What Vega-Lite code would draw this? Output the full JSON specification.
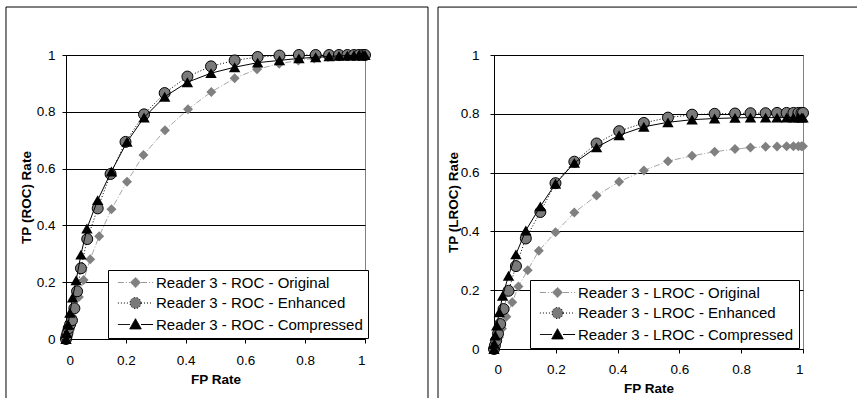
{
  "$schema": "https://vega.github.io/schema/vega-lite/v6.json",
  "padding": {"left": 4, "top": 6, "right": 0, "bottom": 0},
  "background": "white",
  "config": {
    "font": "Liberation Sans",
    "view": {"stroke": "#808080", "strokeWidth": 1},
    "concat": {"spacing": 8},
    "axis": {
      "labelFont": "Liberation Sans", "labelFontSize": 13.5, "labelColor": "black",
      "titleFont": "Liberation Sans", "titleFontSize": 13.5, "titleFontWeight": "bold", "titleColor": "black",
      "domainColor": "black", "tickColor": "black", "tickSize": 4, "tickWidth": 1, "domainWidth": 1,
      "gridColor": "black", "gridWidth": 1, "gridOpacity": 1, "zindex": 1
    },
    "legend": {
      "orient": "none", "title": null, "strokeColor": "black", "fillColor": "white",
      "padding": 5, "rowPadding": 4.5, "labelFont": "Liberation Sans", "labelFontSize": 15,
      "labelColor": "black", "labelLimit": 400, "symbolSize": 121, "symbolStrokeWidth": 1,
      "symbolOffset": 15, "labelOffset": 13, "cornerRadius": 0, "columns": 1
    }
  },
  "datasets": {
    "roc": [
      {"series": "Reader 3 - ROC - Original", "fp": 0, "tp": 0},
      {"series": "Reader 3 - ROC - Original", "fp": 0.003, "tp": 0.012},
      {"series": "Reader 3 - ROC - Original", "fp": 0.007, "tp": 0.03},
      {"series": "Reader 3 - ROC - Original", "fp": 0.013, "tp": 0.055},
      {"series": "Reader 3 - ROC - Original", "fp": 0.02, "tp": 0.08},
      {"series": "Reader 3 - ROC - Original", "fp": 0.03, "tp": 0.112},
      {"series": "Reader 3 - ROC - Original", "fp": 0.043, "tp": 0.148},
      {"series": "Reader 3 - ROC - Original", "fp": 0.059, "tp": 0.208},
      {"series": "Reader 3 - ROC - Original", "fp": 0.081, "tp": 0.281},
      {"series": "Reader 3 - ROC - Original", "fp": 0.111, "tp": 0.362},
      {"series": "Reader 3 - ROC - Original", "fp": 0.152, "tp": 0.457},
      {"series": "Reader 3 - ROC - Original", "fp": 0.204, "tp": 0.554},
      {"series": "Reader 3 - ROC - Original", "fp": 0.259, "tp": 0.648},
      {"series": "Reader 3 - ROC - Original", "fp": 0.331, "tp": 0.735},
      {"series": "Reader 3 - ROC - Original", "fp": 0.408, "tp": 0.809},
      {"series": "Reader 3 - ROC - Original", "fp": 0.486, "tp": 0.87},
      {"series": "Reader 3 - ROC - Original", "fp": 0.564, "tp": 0.918},
      {"series": "Reader 3 - ROC - Original", "fp": 0.639, "tp": 0.95},
      {"series": "Reader 3 - ROC - Original", "fp": 0.713, "tp": 0.969},
      {"series": "Reader 3 - ROC - Original", "fp": 0.777, "tp": 0.981},
      {"series": "Reader 3 - ROC - Original", "fp": 0.83, "tp": 0.988},
      {"series": "Reader 3 - ROC - Original", "fp": 0.876, "tp": 0.993},
      {"series": "Reader 3 - ROC - Original", "fp": 0.914, "tp": 0.996},
      {"series": "Reader 3 - ROC - Original", "fp": 0.944, "tp": 0.998},
      {"series": "Reader 3 - ROC - Original", "fp": 0.966, "tp": 0.999},
      {"series": "Reader 3 - ROC - Original", "fp": 0.982, "tp": 1},
      {"series": "Reader 3 - ROC - Original", "fp": 0.993, "tp": 1},
      {"series": "Reader 3 - ROC - Original", "fp": 1, "tp": 1},
      {"series": "Reader 3 - ROC - Enhanced", "fp": 0, "tp": 0},
      {"series": "Reader 3 - ROC - Enhanced", "fp": 0.002, "tp": 0.01},
      {"series": "Reader 3 - ROC - Enhanced", "fp": 0.005, "tp": 0.022},
      {"series": "Reader 3 - ROC - Enhanced", "fp": 0.009, "tp": 0.038},
      {"series": "Reader 3 - ROC - Enhanced", "fp": 0.014, "tp": 0.052},
      {"series": "Reader 3 - ROC - Enhanced", "fp": 0.02, "tp": 0.066},
      {"series": "Reader 3 - ROC - Enhanced", "fp": 0.028, "tp": 0.108},
      {"series": "Reader 3 - ROC - Enhanced", "fp": 0.037, "tp": 0.168},
      {"series": "Reader 3 - ROC - Enhanced", "fp": 0.05, "tp": 0.249},
      {"series": "Reader 3 - ROC - Enhanced", "fp": 0.071, "tp": 0.352},
      {"series": "Reader 3 - ROC - Enhanced", "fp": 0.106, "tp": 0.46},
      {"series": "Reader 3 - ROC - Enhanced", "fp": 0.149, "tp": 0.581},
      {"series": "Reader 3 - ROC - Enhanced", "fp": 0.199, "tp": 0.694},
      {"series": "Reader 3 - ROC - Enhanced", "fp": 0.261, "tp": 0.791},
      {"series": "Reader 3 - ROC - Enhanced", "fp": 0.33, "tp": 0.866},
      {"series": "Reader 3 - ROC - Enhanced", "fp": 0.406, "tp": 0.924},
      {"series": "Reader 3 - ROC - Enhanced", "fp": 0.485, "tp": 0.96},
      {"series": "Reader 3 - ROC - Enhanced", "fp": 0.564, "tp": 0.981},
      {"series": "Reader 3 - ROC - Enhanced", "fp": 0.641, "tp": 0.993},
      {"series": "Reader 3 - ROC - Enhanced", "fp": 0.714, "tp": 0.998},
      {"series": "Reader 3 - ROC - Enhanced", "fp": 0.779, "tp": 1},
      {"series": "Reader 3 - ROC - Enhanced", "fp": 0.835, "tp": 1},
      {"series": "Reader 3 - ROC - Enhanced", "fp": 0.88, "tp": 1},
      {"series": "Reader 3 - ROC - Enhanced", "fp": 0.913, "tp": 1},
      {"series": "Reader 3 - ROC - Enhanced", "fp": 0.941, "tp": 1},
      {"series": "Reader 3 - ROC - Enhanced", "fp": 0.963, "tp": 1},
      {"series": "Reader 3 - ROC - Enhanced", "fp": 0.98, "tp": 1},
      {"series": "Reader 3 - ROC - Enhanced", "fp": 0.993, "tp": 1},
      {"series": "Reader 3 - ROC - Enhanced", "fp": 1, "tp": 1},
      {"series": "Reader 3 - ROC - Compressed", "fp": 0, "tp": 0},
      {"series": "Reader 3 - ROC - Compressed", "fp": 0.002, "tp": 0.021},
      {"series": "Reader 3 - ROC - Compressed", "fp": 0.007, "tp": 0.051},
      {"series": "Reader 3 - ROC - Compressed", "fp": 0.013, "tp": 0.092},
      {"series": "Reader 3 - ROC - Compressed", "fp": 0.022, "tp": 0.146},
      {"series": "Reader 3 - ROC - Compressed", "fp": 0.034, "tp": 0.207},
      {"series": "Reader 3 - ROC - Compressed", "fp": 0.05, "tp": 0.297},
      {"series": "Reader 3 - ROC - Compressed", "fp": 0.07, "tp": 0.389},
      {"series": "Reader 3 - ROC - Compressed", "fp": 0.106, "tp": 0.489},
      {"series": "Reader 3 - ROC - Compressed", "fp": 0.152, "tp": 0.59},
      {"series": "Reader 3 - ROC - Compressed", "fp": 0.204, "tp": 0.694},
      {"series": "Reader 3 - ROC - Compressed", "fp": 0.261, "tp": 0.78},
      {"series": "Reader 3 - ROC - Compressed", "fp": 0.33, "tp": 0.853},
      {"series": "Reader 3 - ROC - Compressed", "fp": 0.406, "tp": 0.904},
      {"series": "Reader 3 - ROC - Compressed", "fp": 0.485, "tp": 0.936},
      {"series": "Reader 3 - ROC - Compressed", "fp": 0.564, "tp": 0.957},
      {"series": "Reader 3 - ROC - Compressed", "fp": 0.641, "tp": 0.973},
      {"series": "Reader 3 - ROC - Compressed", "fp": 0.714, "tp": 0.981},
      {"series": "Reader 3 - ROC - Compressed", "fp": 0.779, "tp": 0.988},
      {"series": "Reader 3 - ROC - Compressed", "fp": 0.835, "tp": 0.992},
      {"series": "Reader 3 - ROC - Compressed", "fp": 0.88, "tp": 0.995},
      {"series": "Reader 3 - ROC - Compressed", "fp": 0.913, "tp": 0.997},
      {"series": "Reader 3 - ROC - Compressed", "fp": 0.941, "tp": 0.998},
      {"series": "Reader 3 - ROC - Compressed", "fp": 0.963, "tp": 0.999},
      {"series": "Reader 3 - ROC - Compressed", "fp": 0.98, "tp": 1},
      {"series": "Reader 3 - ROC - Compressed", "fp": 0.993, "tp": 1},
      {"series": "Reader 3 - ROC - Compressed", "fp": 1, "tp": 1}
    ],
    "lroc": [
      {"series": "Reader 3 - LROC - Original", "fp": 0, "tp": 0},
      {"series": "Reader 3 - LROC - Original", "fp": 0.002, "tp": 0.005},
      {"series": "Reader 3 - LROC - Original", "fp": 0.005, "tp": 0.012},
      {"series": "Reader 3 - LROC - Original", "fp": 0.009, "tp": 0.022},
      {"series": "Reader 3 - LROC - Original", "fp": 0.016, "tp": 0.04},
      {"series": "Reader 3 - LROC - Original", "fp": 0.026, "tp": 0.07},
      {"series": "Reader 3 - LROC - Original", "fp": 0.04, "tp": 0.11},
      {"series": "Reader 3 - LROC - Original", "fp": 0.059, "tp": 0.159},
      {"series": "Reader 3 - LROC - Original", "fp": 0.079, "tp": 0.213},
      {"series": "Reader 3 - LROC - Original", "fp": 0.109, "tp": 0.268},
      {"series": "Reader 3 - LROC - Original", "fp": 0.145, "tp": 0.334},
      {"series": "Reader 3 - LROC - Original", "fp": 0.199, "tp": 0.397},
      {"series": "Reader 3 - LROC - Original", "fp": 0.26, "tp": 0.464},
      {"series": "Reader 3 - LROC - Original", "fp": 0.332, "tp": 0.522},
      {"series": "Reader 3 - LROC - Original", "fp": 0.405, "tp": 0.569},
      {"series": "Reader 3 - LROC - Original", "fp": 0.485, "tp": 0.607},
      {"series": "Reader 3 - LROC - Original", "fp": 0.563, "tp": 0.639},
      {"series": "Reader 3 - LROC - Original", "fp": 0.641, "tp": 0.657},
      {"series": "Reader 3 - LROC - Original", "fp": 0.714, "tp": 0.671},
      {"series": "Reader 3 - LROC - Original", "fp": 0.78, "tp": 0.68},
      {"series": "Reader 3 - LROC - Original", "fp": 0.83, "tp": 0.685},
      {"series": "Reader 3 - LROC - Original", "fp": 0.879, "tp": 0.688},
      {"series": "Reader 3 - LROC - Original", "fp": 0.916, "tp": 0.689},
      {"series": "Reader 3 - LROC - Original", "fp": 0.947, "tp": 0.69},
      {"series": "Reader 3 - LROC - Original", "fp": 0.969, "tp": 0.69},
      {"series": "Reader 3 - LROC - Original", "fp": 0.985, "tp": 0.69},
      {"series": "Reader 3 - LROC - Original", "fp": 0.995, "tp": 0.69},
      {"series": "Reader 3 - LROC - Original", "fp": 1, "tp": 0.69},
      {"series": "Reader 3 - LROC - Enhanced", "fp": 0, "tp": 0},
      {"series": "Reader 3 - LROC - Enhanced", "fp": 0.003, "tp": 0.012},
      {"series": "Reader 3 - LROC - Enhanced", "fp": 0.007, "tp": 0.029},
      {"series": "Reader 3 - LROC - Enhanced", "fp": 0.013, "tp": 0.052},
      {"series": "Reader 3 - LROC - Enhanced", "fp": 0.02, "tp": 0.085},
      {"series": "Reader 3 - LROC - Enhanced", "fp": 0.031, "tp": 0.136},
      {"series": "Reader 3 - LROC - Enhanced", "fp": 0.047, "tp": 0.198},
      {"series": "Reader 3 - LROC - Enhanced", "fp": 0.071, "tp": 0.282},
      {"series": "Reader 3 - LROC - Enhanced", "fp": 0.103, "tp": 0.376},
      {"series": "Reader 3 - LROC - Enhanced", "fp": 0.15, "tp": 0.466},
      {"series": "Reader 3 - LROC - Enhanced", "fp": 0.199, "tp": 0.564},
      {"series": "Reader 3 - LROC - Enhanced", "fp": 0.26, "tp": 0.637},
      {"series": "Reader 3 - LROC - Enhanced", "fp": 0.332, "tp": 0.699},
      {"series": "Reader 3 - LROC - Enhanced", "fp": 0.405, "tp": 0.741},
      {"series": "Reader 3 - LROC - Enhanced", "fp": 0.485, "tp": 0.769},
      {"series": "Reader 3 - LROC - Enhanced", "fp": 0.563, "tp": 0.787},
      {"series": "Reader 3 - LROC - Enhanced", "fp": 0.641, "tp": 0.797},
      {"series": "Reader 3 - LROC - Enhanced", "fp": 0.714, "tp": 0.8},
      {"series": "Reader 3 - LROC - Enhanced", "fp": 0.78, "tp": 0.801},
      {"series": "Reader 3 - LROC - Enhanced", "fp": 0.83, "tp": 0.802},
      {"series": "Reader 3 - LROC - Enhanced", "fp": 0.879, "tp": 0.802},
      {"series": "Reader 3 - LROC - Enhanced", "fp": 0.916, "tp": 0.803},
      {"series": "Reader 3 - LROC - Enhanced", "fp": 0.947, "tp": 0.803},
      {"series": "Reader 3 - LROC - Enhanced", "fp": 0.969, "tp": 0.803},
      {"series": "Reader 3 - LROC - Enhanced", "fp": 0.985, "tp": 0.803},
      {"series": "Reader 3 - LROC - Enhanced", "fp": 0.995, "tp": 0.803},
      {"series": "Reader 3 - LROC - Enhanced", "fp": 1, "tp": 0.803},
      {"series": "Reader 3 - LROC - Compressed", "fp": 0, "tp": 0},
      {"series": "Reader 3 - LROC - Compressed", "fp": 0.001, "tp": 0.018},
      {"series": "Reader 3 - LROC - Compressed", "fp": 0.004, "tp": 0.046},
      {"series": "Reader 3 - LROC - Compressed", "fp": 0.009, "tp": 0.08},
      {"series": "Reader 3 - LROC - Compressed", "fp": 0.017, "tp": 0.125},
      {"series": "Reader 3 - LROC - Compressed", "fp": 0.028, "tp": 0.181},
      {"series": "Reader 3 - LROC - Compressed", "fp": 0.047, "tp": 0.249},
      {"series": "Reader 3 - LROC - Compressed", "fp": 0.071, "tp": 0.322},
      {"series": "Reader 3 - LROC - Compressed", "fp": 0.103, "tp": 0.403},
      {"series": "Reader 3 - LROC - Compressed", "fp": 0.15, "tp": 0.485},
      {"series": "Reader 3 - LROC - Compressed", "fp": 0.199, "tp": 0.562},
      {"series": "Reader 3 - LROC - Compressed", "fp": 0.26, "tp": 0.633},
      {"series": "Reader 3 - LROC - Compressed", "fp": 0.332, "tp": 0.686},
      {"series": "Reader 3 - LROC - Compressed", "fp": 0.405, "tp": 0.727},
      {"series": "Reader 3 - LROC - Compressed", "fp": 0.485, "tp": 0.756},
      {"series": "Reader 3 - LROC - Compressed", "fp": 0.563, "tp": 0.771},
      {"series": "Reader 3 - LROC - Compressed", "fp": 0.641, "tp": 0.78},
      {"series": "Reader 3 - LROC - Compressed", "fp": 0.714, "tp": 0.784},
      {"series": "Reader 3 - LROC - Compressed", "fp": 0.78, "tp": 0.786},
      {"series": "Reader 3 - LROC - Compressed", "fp": 0.83, "tp": 0.787},
      {"series": "Reader 3 - LROC - Compressed", "fp": 0.879, "tp": 0.787},
      {"series": "Reader 3 - LROC - Compressed", "fp": 0.916, "tp": 0.787},
      {"series": "Reader 3 - LROC - Compressed", "fp": 0.947, "tp": 0.787},
      {"series": "Reader 3 - LROC - Compressed", "fp": 0.969, "tp": 0.787},
      {"series": "Reader 3 - LROC - Compressed", "fp": 0.985, "tp": 0.787},
      {"series": "Reader 3 - LROC - Compressed", "fp": 0.995, "tp": 0.787},
      {"series": "Reader 3 - LROC - Compressed", "fp": 1, "tp": 0.787}
    ]
  },
  "resolve": {
    "scale": {"x": "independent", "y": "independent", "shape": "independent", "fill": "independent", "stroke": "independent", "strokeDash": "independent"},
    "legend": {"shape": "independent", "fill": "independent", "stroke": "independent", "strokeDash": "independent"},
    "axis": {"x": "independent", "y": "independent"}
  },
  "hconcat": [
    {
      "width": 299,
      "height": 284,
      "data": {"name": "roc"},
      "layer": [
        {
          "transform": [{"filter": "datum.series === 'Reader 3 - ROC - Original'"}],
          "mark": {"type": "line", "stroke": "#a6a6a6", "strokeWidth": 1, "strokeDash": [6, 2, 1, 2]},
          "encoding": {
            "x": {"field": "fp", "type": "quantitative", "scale": {"domain": [0, 1], "nice": false},
                  "axis": {"title": "FP Rate", "values": [0, 0.2, 0.4, 0.6, 0.8, 1], "format": "~g", "grid": false, "labelPadding": 10, "titlePadding": 6}},
            "y": {"field": "tp", "type": "quantitative", "scale": {"domain": [0, 1], "nice": false},
                  "axis": {"title": "TP (ROC) Rate", "values": [0, 0.2, 0.4, 0.6, 0.8, 1], "format": "~g", "grid": true, "labelPadding": 7, "titlePadding": 3}}
          }
        },
        {
          "data": {"values": [{}]},
          "mark": {"type": "rule", "stroke": "black", "strokeWidth": 1, "clip": false},
          "encoding": {
            "x": {"datum": -0.2007, "type": "quantitative"},
            "y": {"datum": -0.208, "type": "quantitative"},
            "y2": {"datum": 1.169}
          }
        },
        {
          "data": {"values": [{}]},
          "mark": {"type": "rule", "stroke": "black", "strokeWidth": 1, "clip": false},
          "encoding": {
            "x": {"datum": 1.2107, "type": "quantitative"},
            "y": {"datum": -0.208, "type": "quantitative"},
            "y2": {"datum": 1.169}
          }
        },
        {
          "data": {"values": [{}]},
          "mark": {"type": "rule", "stroke": "black", "strokeWidth": 1, "clip": false},
          "encoding": {
            "y": {"datum": 1.169, "type": "quantitative"},
            "x": {"datum": -0.2007, "type": "quantitative"},
            "x2": {"datum": 1.2107}
          }
        },
        {
          "transform": [{"filter": "datum.series === 'Reader 3 - ROC - Original'"}],
          "mark": {"type": "point", "shape": "diamond", "filled": true, "fill": "#808080", "size": 100, "opacity": 1},
          "encoding": {"x": {"field": "fp", "type": "quantitative"}, "y": {"field": "tp", "type": "quantitative"}}
        },
        {
          "transform": [{"filter": "datum.series === 'Reader 3 - ROC - Enhanced'"}],
          "mark": {"type": "line", "stroke": "black", "strokeWidth": 1, "strokeDash": [1, 2]},
          "encoding": {"x": {"field": "fp", "type": "quantitative"}, "y": {"field": "tp", "type": "quantitative"}}
        },
        {
          "transform": [{"filter": "datum.series === 'Reader 3 - ROC - Enhanced'"}],
          "mark": {"type": "point", "shape": "circle", "filled": true, "fill": "#7a7a7a", "stroke": "black", "strokeWidth": 1, "size": 121, "opacity": 1},
          "encoding": {"x": {"field": "fp", "type": "quantitative"}, "y": {"field": "tp", "type": "quantitative"}}
        },
        {
          "transform": [{"filter": "datum.series === 'Reader 3 - ROC - Compressed'"}],
          "mark": {"type": "line", "stroke": "black", "strokeWidth": 1},
          "encoding": {"x": {"field": "fp", "type": "quantitative"}, "y": {"field": "tp", "type": "quantitative"}}
        },
        {
          "transform": [{"filter": "datum.series === 'Reader 3 - ROC - Compressed'"}],
          "mark": {"type": "point", "shape": "triangle-up", "filled": true, "fill": "black", "size": 130, "opacity": 1},
          "encoding": {"x": {"field": "fp", "type": "quantitative"}, "y": {"field": "tp", "type": "quantitative"}}
        },
        {
          "transform": [{"filter": "datum.fp < -1"}],
          "mark": {"type": "point", "filled": true, "size": 121, "opacity": 1, "strokeWidth": 1},
          "encoding": {
            "x": {"field": "fp", "type": "quantitative"},
            "y": {"field": "tp", "type": "quantitative"},
            "shape": {"field": "series", "type": "nominal",
              "scale": {"domain": ["Reader 3 - ROC - Original", "Reader 3 - ROC - Enhanced", "Reader 3 - ROC - Compressed"],
                        "range": ["M-3.2,0H-1M1,0H3.2M0,-0.95L0.95,0L0,0.95L-0.95,0Z", "M-3.2,0H-1M1,0H3.2M1,0A1,1,0,1,1,-1,0A1,1,0,1,1,1,0Z", "M-3.2,0H-1M1,0H3.2M0,-1.05L1.05,0.8L-1.05,0.8Z"]},
              "legend": {"legendX": 42, "legendY": 215, "title": null}},
            "fill": {"field": "series", "type": "nominal",
              "scale": {"domain": ["Reader 3 - ROC - Original", "Reader 3 - ROC - Enhanced", "Reader 3 - ROC - Compressed"], "range": ["#808080", "#7a7a7a", "#000000"]},
              "legend": {"legendX": 42, "legendY": 215, "title": null}},
            "stroke": {"field": "series", "type": "nominal",
              "scale": {"domain": ["Reader 3 - ROC - Original", "Reader 3 - ROC - Enhanced", "Reader 3 - ROC - Compressed"], "range": ["#999999", "#000000", "#000000"]},
              "legend": {"legendX": 42, "legendY": 215, "title": null}},
            "strokeDash": {"field": "series", "type": "nominal",
              "scale": {"domain": ["Reader 3 - ROC - Original", "Reader 3 - ROC - Enhanced", "Reader 3 - ROC - Compressed"], "range": [[6, 2, 1, 2], [1, 2], [1, 0]]},
              "legend": {"legendX": 42, "legendY": 215, "title": null}}
          }
        }
      ]
    },
    {
      "width": 309,
      "height": 294,
      "data": {"name": "lroc"},
      "layer": [
        {
          "transform": [{"filter": "datum.series === 'Reader 3 - LROC - Original'"}],
          "mark": {"type": "line", "stroke": "#a6a6a6", "strokeWidth": 1, "strokeDash": [6, 2, 1, 2]},
          "encoding": {
            "x": {"field": "fp", "type": "quantitative", "scale": {"domain": [0, 1], "nice": false},
                  "axis": {"title": "FP Rate", "values": [0, 0.2, 0.4, 0.6, 0.8, 1], "format": "~g", "grid": false, "labelPadding": 9, "titlePadding": 6}},
            "y": {"field": "tp", "type": "quantitative", "scale": {"domain": [0, 1], "nice": false},
                  "axis": {"title": "TP (LROC) Rate", "values": [0, 0.2, 0.4, 0.6, 0.8, 1], "format": "~g", "grid": true, "labelPadding": 11, "titlePadding": 0}}
          }
        },
        {
          "data": {"values": [{}]},
          "mark": {"type": "rule", "stroke": "black", "strokeWidth": 1, "clip": false},
          "encoding": {
            "x": {"datum": -0.1812, "type": "quantitative"},
            "y": {"datum": -0.1667, "type": "quantitative"},
            "y2": {"datum": 1.163}
          }
        },
        {
          "data": {"values": [{}]},
          "mark": {"type": "rule", "stroke": "black", "strokeWidth": 1, "clip": false},
          "encoding": {
            "y": {"datum": 1.163, "type": "quantitative"},
            "x": {"datum": -0.1812, "type": "quantitative"},
            "x2": {"datum": 1.1748}
          }
        },
        {
          "transform": [{"filter": "datum.series === 'Reader 3 - LROC - Original'"}],
          "mark": {"type": "point", "shape": "diamond", "filled": true, "fill": "#808080", "size": 100, "opacity": 1},
          "encoding": {"x": {"field": "fp", "type": "quantitative"}, "y": {"field": "tp", "type": "quantitative"}}
        },
        {
          "transform": [{"filter": "datum.series === 'Reader 3 - LROC - Enhanced'"}],
          "mark": {"type": "line", "stroke": "black", "strokeWidth": 1, "strokeDash": [1, 2]},
          "encoding": {"x": {"field": "fp", "type": "quantitative"}, "y": {"field": "tp", "type": "quantitative"}}
        },
        {
          "transform": [{"filter": "datum.series === 'Reader 3 - LROC - Enhanced'"}],
          "mark": {"type": "point", "shape": "circle", "filled": true, "fill": "#7a7a7a", "stroke": "black", "strokeWidth": 1, "size": 121, "opacity": 1},
          "encoding": {"x": {"field": "fp", "type": "quantitative"}, "y": {"field": "tp", "type": "quantitative"}}
        },
        {
          "transform": [{"filter": "datum.series === 'Reader 3 - LROC - Compressed'"}],
          "mark": {"type": "line", "stroke": "black", "strokeWidth": 1},
          "encoding": {"x": {"field": "fp", "type": "quantitative"}, "y": {"field": "tp", "type": "quantitative"}}
        },
        {
          "transform": [{"filter": "datum.series === 'Reader 3 - LROC - Compressed'"}],
          "mark": {"type": "point", "shape": "triangle-up", "filled": true, "fill": "black", "size": 130, "opacity": 1},
          "encoding": {"x": {"field": "fp", "type": "quantitative"}, "y": {"field": "tp", "type": "quantitative"}}
        },
        {
          "transform": [{"filter": "datum.fp < -1"}],
          "mark": {"type": "point", "filled": true, "size": 121, "opacity": 1, "strokeWidth": 1},
          "encoding": {
            "x": {"field": "fp", "type": "quantitative"},
            "y": {"field": "tp", "type": "quantitative"},
            "shape": {"field": "series", "type": "nominal",
              "scale": {"domain": ["Reader 3 - LROC - Original", "Reader 3 - LROC - Enhanced", "Reader 3 - LROC - Compressed"],
                        "range": ["M-3.2,0H-1M1,0H3.2M0,-0.95L0.95,0L0,0.95L-0.95,0Z", "M-3.2,0H-1M1,0H3.2M1,0A1,1,0,1,1,-1,0A1,1,0,1,1,1,0Z", "M-3.2,0H-1M1,0H3.2M0,-1.05L1.05,0.8L-1.05,0.8Z"]},
              "legend": {"legendX": 36, "legendY": 225, "title": null}},
            "fill": {"field": "series", "type": "nominal",
              "scale": {"domain": ["Reader 3 - LROC - Original", "Reader 3 - LROC - Enhanced", "Reader 3 - LROC - Compressed"], "range": ["#808080", "#7a7a7a", "#000000"]},
              "legend": {"legendX": 36, "legendY": 225, "title": null}},
            "stroke": {"field": "series", "type": "nominal",
              "scale": {"domain": ["Reader 3 - LROC - Original", "Reader 3 - LROC - Enhanced", "Reader 3 - LROC - Compressed"], "range": ["#999999", "#000000", "#000000"]},
              "legend": {"legendX": 36, "legendY": 225, "title": null}},
            "strokeDash": {"field": "series", "type": "nominal",
              "scale": {"domain": ["Reader 3 - LROC - Original", "Reader 3 - LROC - Enhanced", "Reader 3 - LROC - Compressed"], "range": [[6, 2, 1, 2], [1, 2], [1, 0]]},
              "legend": {"legendX": 36, "legendY": 225, "title": null}}
          }
        }
      ]
    }
  ]
}
